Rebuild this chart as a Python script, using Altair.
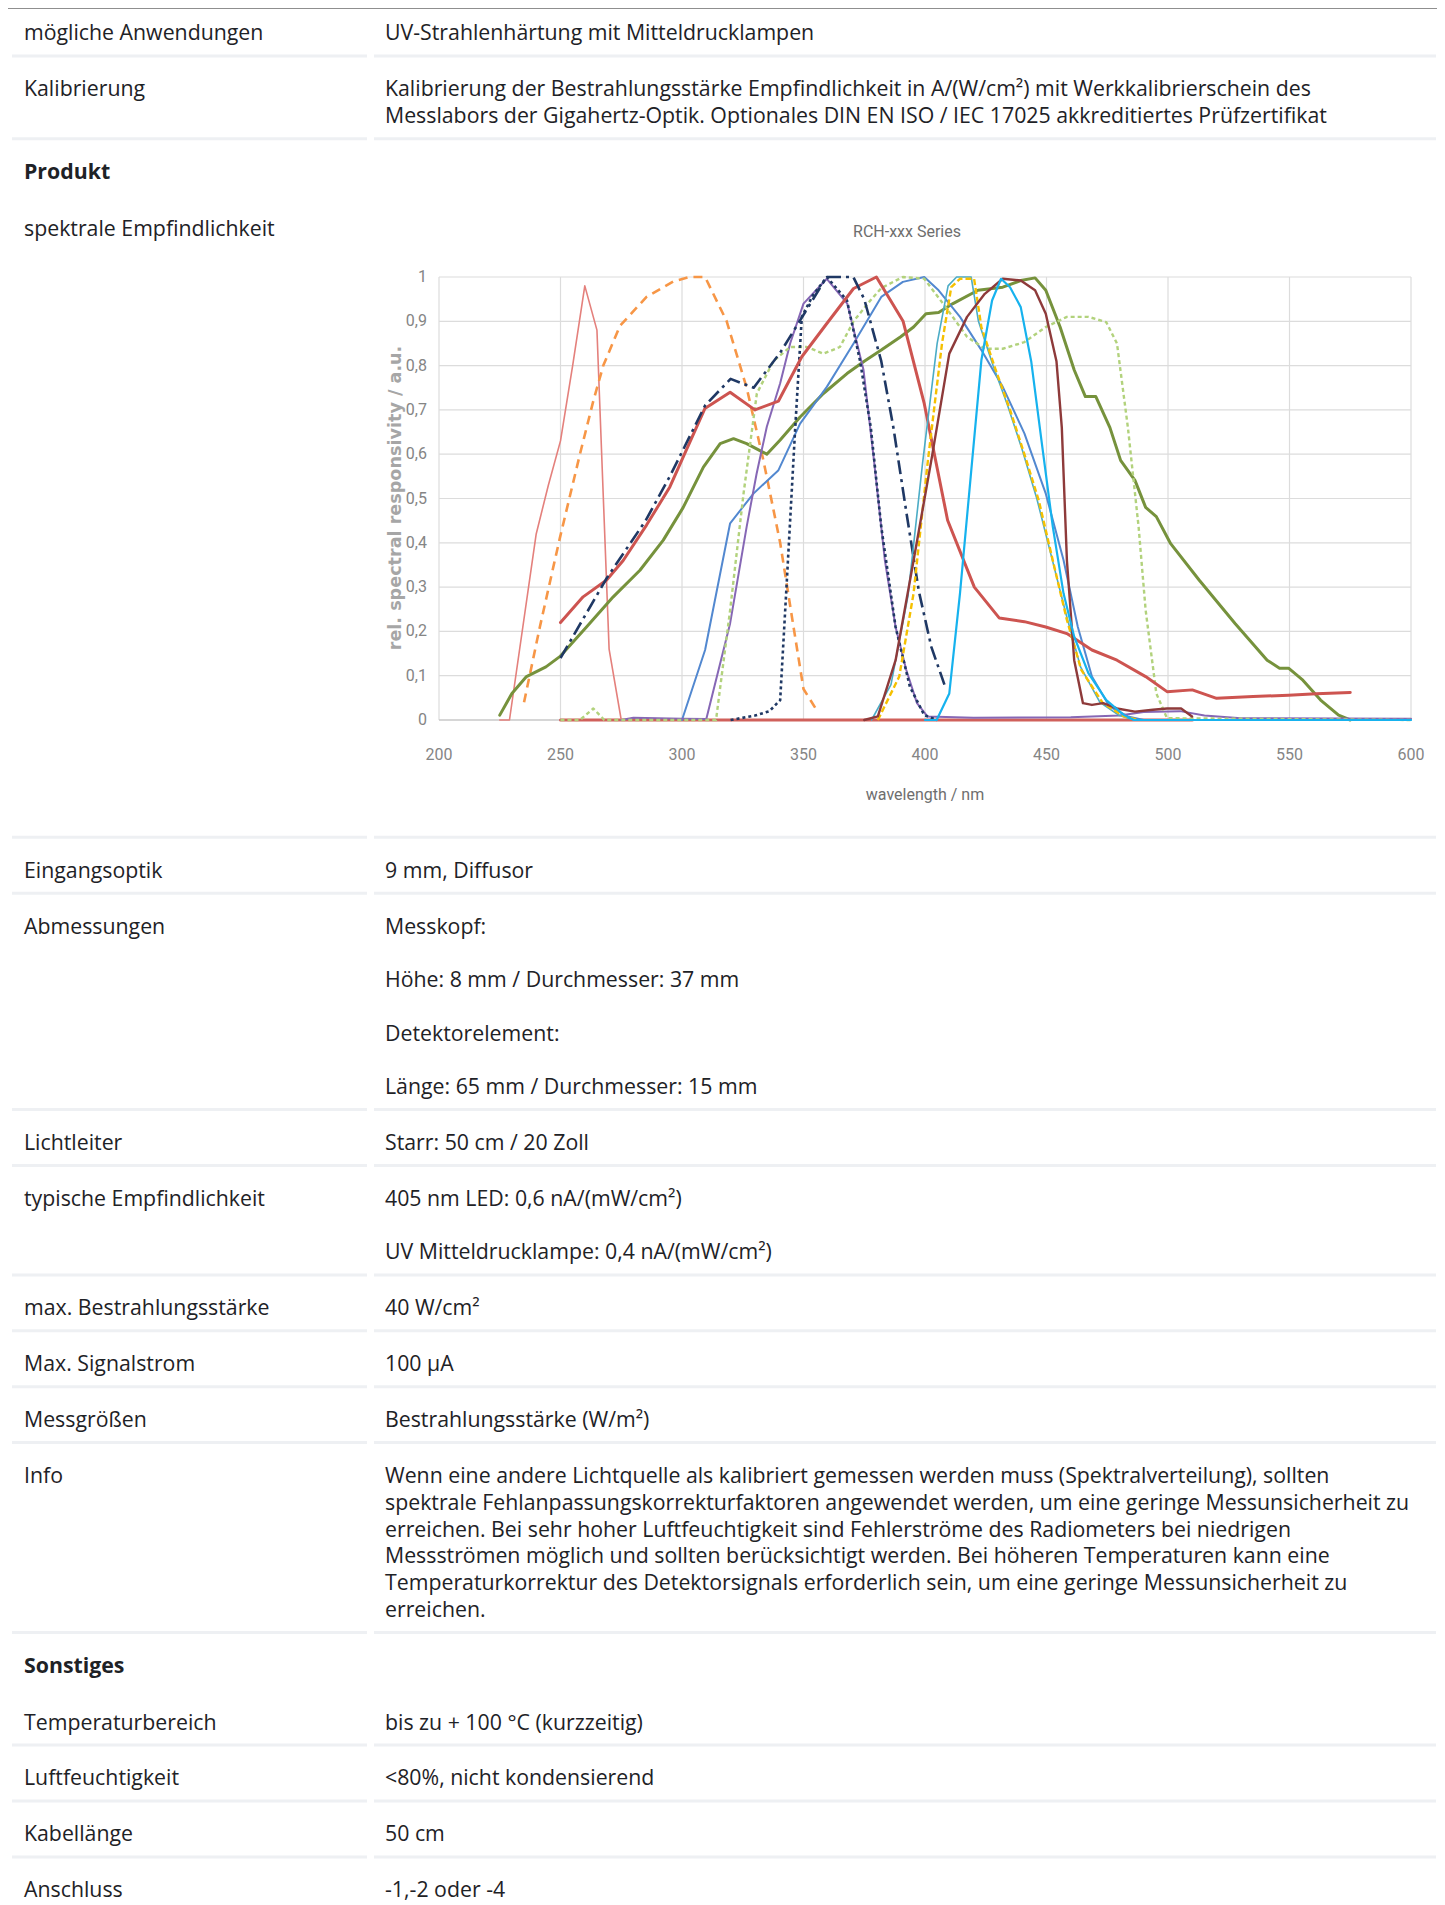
import altair as alt
import pandas as pd

MARGIN = 8
W, H = 1429, 1897

# ---------------- table content ----------------
ROW_LABELS = [
    "mögliche Anwendungen", "Kalibrierung", "Produkt", "spektrale Empfindlichkeit",
    "Eingangsoptik", "Abmessungen", "Lichtleiter", "typische Empfindlichkeit",
    "max. Bestrahlungsstärke", "Max. Signalstrom", "Messgrößen", "Info",
    "Sonstiges", "Temperaturbereich", "Luftfeuchtigkeit", "Kabellänge", "Anschluss",
]
ROW_KIND = ["row", "row", "header", "chart", "row", "row", "row", "row",
            "row", "row", "row", "row", "header", "row", "row", "row", "row"]
ROW_VALUES = [
    [["UV-Strahlenhärtung mit Mitteldrucklampen"]],
    [["Kalibrierung der Bestrahlungsstärke Empfindlichkeit in A/(W/cm²) mit Werkkalibrierschein des",
      "Messlabors der Gigahertz-Optik. Optionales DIN EN ISO / IEC 17025 akkreditiertes Prüfzertifikat"]],
    [],
    [],
    [["9 mm, Diffusor"]],
    [["Messkopf:"], ["Höhe: 8 mm / Durchmesser: 37 mm"], ["Detektorelement:"],
     ["Länge: 65 mm / Durchmesser: 15 mm"]],
    [["Starr: 50 cm / 20 Zoll"]],
    [["405 nm LED: 0,6 nA/(mW/cm²)"], ["UV Mitteldrucklampe: 0,4 nA/(mW/cm²)"]],
    [["40 W/cm²"]],
    [["100 µA"]],
    [["Bestrahlungsstärke (W/m²)"]],
    [["Wenn eine andere Lichtquelle als kalibriert gemessen werden muss (Spektralverteilung), sollten",
      "spektrale Fehlanpassungskorrekturfaktoren angewendet werden, um eine geringe Messunsicherheit zu",
      "erreichen. Bei sehr hoher Luftfeuchtigkeit sind Fehlerströme des Radiometers bei niedrigen",
      "Messströmen möglich und sollten berücksichtigt werden. Bei höheren Temperaturen kann eine",
      "Temperaturkorrektur des Detektorsignals erforderlich sein, um eine geringe Messunsicherheit zu",
      "erreichen."]],
    [],
    [["bis zu + 100 °C (kurzzeitig)"]],
    [["<80%, nicht kondensierend"]],
    [["50 cm"]],
    [["-1,-2 oder -4"]],
]

# ---------------- spectral responsivity curves ----------------
X_TICKS = [200, 250, 300, 350, 400, 450, 500, 550, 600]
Y_TICKS = [0, 0.1, 0.2, 0.3, 0.4, 0.5, 0.6, 0.7, 0.8, 0.9, 1.0]
Y_TICK_LABELS = ["0", "0,1", "0,2", "0,3", "0,4", "0,5", "0,6", "0,7", "0,8", "0,9", "1"]

PINK_WL = [225, 229, 240, 245, 250, 255, 260, 265, 270, 275]
PINK_V = [0, 0, 0.42, 0.53, 0.63, 0.80, 0.98, 0.88, 0.16, 0]

RED0_WL = [250, 300, 400, 510]
RED0_V = [0, 0, 0, 0]

ORANGE_WL = [235, 241.5, 249.7, 258, 263.5, 267.6, 274.5, 285.4, 296.4, 303, 309.5,
             318.4, 326.6, 333.5, 340.4, 345.9, 350, 355]
ORANGE_V = [0.04, 0.21, 0.41, 0.60, 0.72, 0.80, 0.89, 0.955, 0.99, 1.0, 1.0,
            0.90, 0.75, 0.586, 0.40, 0.21, 0.07, 0.026]

OLIVE_WL = [225, 230, 236, 244, 249.7, 260.7, 271.7, 282.7, 292.3, 300.5, 308.8, 315.7,
            321.2, 326.6, 334.9, 340.4, 348.6, 358.2, 367.9, 375, 382, 390, 395.3, 400.4,
            405.6, 411.5, 421.8, 432, 439.4, 445.3, 449.7, 455.6, 461.4, 466, 470.3, 476.1,
            480.5, 486.4, 490.8, 495.2, 501.1, 512.8, 527.6, 540.8, 545.9, 549.6, 555.5,
            562.8, 570.2, 575]
OLIVE_V = [0.011, 0.06, 0.098, 0.12, 0.143, 0.21, 0.278, 0.338, 0.406, 0.48, 0.571, 0.624,
           0.635, 0.624, 0.60, 0.632, 0.684, 0.737, 0.782, 0.81, 0.835, 0.865, 0.887, 0.917,
           0.92, 0.94, 0.97, 0.977, 0.992, 0.998, 0.97, 0.887, 0.79, 0.73, 0.73, 0.66,
           0.586, 0.541, 0.48, 0.459, 0.398, 0.316, 0.218, 0.135, 0.117, 0.117, 0.09,
           0.045, 0.011, 0]

LGREEN_WL = [250, 258, 263.5, 268, 314, 319.8, 325.3, 330.8, 337.6, 344.5, 351.4, 358.2,
             365, 370.6, 377.5, 382, 390.9, 399.7, 408.5, 417.3, 424.6, 432, 440.9, 449.7,
             458.4, 467.3, 474.6, 479, 483.5, 487.9, 490.8, 495.2, 499.6, 600]
LGREEN_V = [0, 0, 0.026, 0, 0, 0.248, 0.51, 0.737, 0.81, 0.842, 0.842, 0.827,
            0.842, 0.90, 0.947, 0.975, 1.0, 0.996, 0.932, 0.865, 0.838, 0.838, 0.853, 0.887,
            0.91, 0.91, 0.898, 0.85, 0.66, 0.436, 0.248, 0.06, 0.004, 0]

NAVYDD_WL = [250, 269, 285, 295, 309.5, 320, 329.5, 340.5, 349.5, 359.5, 370.5, 375,
             382, 387, 392.3, 397.5, 402.6, 408]
NAVYDD_V = [0.14, 0.32, 0.45, 0.55, 0.71, 0.77, 0.75, 0.83, 0.91, 1.0, 1.0, 0.95,
            0.81, 0.66, 0.47, 0.29, 0.165, 0.08]

RED_WL = [250, 259.3, 269, 275.8, 285.4, 295, 309.4, 319.8, 330, 339.7, 349.3, 359.6,
          370.6, 380, 391, 399.7, 409.3, 420.3, 430.6, 440.9, 449.7, 458.4, 468.7, 479,
          490.8, 499.6, 510, 520, 535, 549.6, 561, 575]
RED_V = [0.22, 0.278, 0.316, 0.36, 0.44, 0.526, 0.703, 0.74, 0.70, 0.72, 0.82, 0.895,
         0.974, 1.0, 0.90, 0.714, 0.451, 0.30, 0.23, 0.222, 0.21, 0.195, 0.158, 0.135,
         0.098, 0.064, 0.068, 0.049, 0.053, 0.056, 0.059, 0.062]

BLUE_WL = [300, 309.5, 319.8, 329.4, 339.7, 348.6, 359.6, 370.6, 382, 390.9, 399.7, 405.6,
           414.4, 423.2, 432, 440.9, 449.7, 457, 462.9, 468.7, 476, 483.5, 490]
BLUE_V = [0, 0.158, 0.444, 0.511, 0.564, 0.669, 0.752, 0.85, 0.955, 0.989, 1.0, 0.97,
          0.91, 0.835, 0.752, 0.647, 0.511, 0.361, 0.21, 0.098, 0.03, 0.008, 0]

PURPLE_WL = [275, 280, 290, 300, 310, 319.8, 326.6, 330.7, 334.9, 340.4, 344.5, 350,
             359.6, 368, 374.7, 379, 383.5, 387.9, 392.3, 396.7, 401, 420, 460, 480,
             490, 505, 515, 530, 600]
PURPLE_V = [0, 0.005, 0.004, 0.003, 0.002, 0.218, 0.436, 0.556, 0.662, 0.76, 0.85, 0.94,
            0.996, 0.94, 0.79, 0.586, 0.36, 0.21, 0.113, 0.038, 0.008, 0.005, 0.006, 0.01,
            0.018, 0.02, 0.01, 0.004, 0.003]

NAVYD_WL = [320, 330, 336, 340.4, 343, 346.6, 349.3, 354, 359.6, 367.9, 373.3, 377.7,
            382, 387.9, 393.8, 399.7, 405]
NAVYD_V = [0, 0.01, 0.02, 0.045, 0.3, 0.66, 0.91, 0.96, 1.0, 0.947, 0.81, 0.66,
           0.436, 0.21, 0.075, 0.011, 0]

TEAL_WL = [378, 386, 393, 399, 405, 409.5, 413, 419, 422, 428, 434, 440, 446, 452,
           458, 464, 472, 480, 486, 600]
TEAL_V = [0, 0.08, 0.28, 0.58, 0.85, 0.98, 1.0, 1.0, 0.9, 0.8, 0.71, 0.61, 0.5, 0.37,
          0.24, 0.12, 0.04, 0.01, 0, 0]

YELLOW_WL = [380.6, 389.4, 395.3, 401.2, 407, 410.8, 414.4, 420.2, 423.2, 429.1, 435,
             440.9, 446.8, 452.6, 458.4, 464.3, 473.2, 481.9, 487.8]
YELLOW_V = [0, 0.098, 0.286, 0.586, 0.85, 0.977, 0.996, 0.996, 0.887, 0.79, 0.70,
            0.60, 0.496, 0.36, 0.226, 0.113, 0.038, 0.008, 0]

MAROON_WL = [375, 380.6, 387.9, 395.3, 402.6, 410, 417.3, 424.6, 432, 439.4, 445.3, 449.7,
             454.1, 456.3, 458.4, 461.4, 465, 468.7, 473.3, 479, 486.4, 493.8, 499.6,
             505.4, 509.9]
MAROON_V = [0, 0.008, 0.135, 0.36, 0.586, 0.827, 0.91, 0.962, 0.996, 0.992, 0.97, 0.917,
            0.81, 0.66, 0.36, 0.135, 0.038, 0.034, 0.038, 0.026, 0.019, 0.023, 0.026,
            0.026, 0.008]

CYAN_WL = [400, 404.8, 410, 414.4, 418.8, 423.2, 427.6, 431.3, 435, 439.4, 443.7, 448.1,
           452.6, 457, 461.4, 467.3, 474.6, 481.9, 486, 600]
CYAN_V = [0, 0, 0.06, 0.286, 0.549, 0.812, 0.947, 0.996, 0.977, 0.932, 0.81, 0.624,
          0.436, 0.286, 0.188, 0.105, 0.045, 0.011, 0, 0]

# (wavelengths, values, colour, width, dash)
SERIES = [
    (RED0_WL, RED0_V, "#D0605B", 3.0, None),
    (PINK_WL, PINK_V, "#E4807C", 1.6, None),
    (ORANGE_WL, ORANGE_V, "#F79646", 2.6, [9, 6]),
    (OLIVE_WL, OLIVE_V, "#76923C", 3.0, None),
    (BLUE_WL, BLUE_V, "#5288D0", 2.0, None),
    (PURPLE_WL, PURPLE_V, "#8667B5", 2.0, None),
    (LGREEN_WL, LGREEN_V, "#B2D27C", 2.4, [4, 3]),
    (NAVYD_WL, NAVYD_V, "#1F3864", 2.6, [3, 3]),
    (RED_WL, RED_V, "#CD5450", 3.0, None),
    (NAVYDD_WL, NAVYDD_V, "#1F3864", 2.6, [14, 5, 3, 5]),
    (TEAL_WL, TEAL_V, "#4BACC6", 1.6, None),
    (YELLOW_WL, YELLOW_V, "#F5C000", 2.4, [6, 3]),
    (MAROON_WL, MAROON_V, "#8E3A3A", 2.4, None),
    (CYAN_WL, CYAN_V, "#16B2EE", 2.2, None),
]

# ---------------- layout (page coordinates) ----------------
LABEL_X = 24
VALUE_X = 385
FIRST_TEXT_Y = 34.4
LINE_H = 26.8
PARA_H = 53.5
SEP_GAP = 21.6
NEXT_GAP = 34.3
HEADER_PITCH = 56.7
CHART_ROW_H = 607.6
LEFT_SEP = (12, 367)
RIGHT_SEP = (374, 1436)
FONT_SIZE = 21.3

label_rows, value_rows, header_rows, sep_rows = [], [], [], []
y = FIRST_TEXT_Y
for label, kind, paras in zip(ROW_LABELS, ROW_KIND, ROW_VALUES):
    if kind == "header":
        header_rows.append({"t": label, "x": LABEL_X - MARGIN, "y": y - MARGIN})
        y += HEADER_PITCH
        continue
    label_rows.append({"t": label, "x": LABEL_X - MARGIN, "y": y - MARGIN})
    if kind == "chart":
        last = y + CHART_ROW_H - SEP_GAP
    else:
        ly = y
        for pi, para in enumerate(paras):
            if pi > 0:
                ly += PARA_H
            for li, line in enumerate(para):
                if li > 0:
                    ly += LINE_H
                value_rows.append({"t": line, "x": VALUE_X - MARGIN, "y": ly - MARGIN})
        last = ly
    sep = last + SEP_GAP
    sep_rows.append({"x": LEFT_SEP[0] - MARGIN, "x2": LEFT_SEP[1] - MARGIN, "y": sep - MARGIN})
    sep_rows.append({"x": RIGHT_SEP[0] - MARGIN, "x2": RIGHT_SEP[1] - MARGIN, "y": sep - MARGIN})
    y = sep + NEXT_GAP

TEXT_FONT = "Open Sans"
TEXT_COLOR = "#1E2226"

def px(field):
    return alt.X(f"{field}:Q", scale=None, axis=None)

def py(field):
    return alt.Y(f"{field}:Q", scale=None, axis=None)

labels_layer = alt.Chart(pd.DataFrame(label_rows)).mark_text(
    align="left", baseline="middle", font=TEXT_FONT, fontSize=FONT_SIZE, color=TEXT_COLOR
).encode(x=px("x"), y=py("y"), text="t:N")

values_layer = alt.Chart(pd.DataFrame(value_rows)).mark_text(
    align="left", baseline="middle", font=TEXT_FONT, fontSize=FONT_SIZE, color=TEXT_COLOR
).encode(x=px("x"), y=py("y"), text="t:N")

headers_layer = alt.Chart(pd.DataFrame(header_rows)).mark_text(
    align="left", baseline="middle", font=TEXT_FONT, fontSize=FONT_SIZE, fontWeight="bold",
    color=TEXT_COLOR
).encode(x=px("x"), y=py("y"), text="t:N")

seps_layer = alt.Chart(pd.DataFrame(sep_rows)).mark_rule(
    color="#EEF0F3", strokeWidth=3
).encode(x=px("x"), x2="x2:Q", y=py("y"))

top_line = pd.DataFrame({"x": [0], "x2": [W], "y": [0.5]})
top_layer = alt.Chart(top_line).mark_rule(color="#8F8F8F", strokeWidth=1).encode(
    x=px("x"), x2="x2:Q", y=py("y"))

# ---------------- spectral chart ----------------
PLOT_X0, PLOT_X1 = 439, 1411
PLOT_Y0, PLOT_Y1 = 720, 277
XS = alt.Scale(domain=[200, 600], range=[PLOT_X0 - MARGIN, PLOT_X1 - MARGIN], nice=False, zero=False)
YS = alt.Scale(domain=[0, 1], range=[PLOT_Y0 - MARGIN, PLOT_Y1 - MARGIN], nice=False, zero=False)
AX_FONT = "Roboto"
AX_COLOR = "#858585"

vgrid = alt.Chart(pd.DataFrame({"wl": X_TICKS, "lo": [0] * len(X_TICKS), "hi": [1] * len(X_TICKS)})).mark_rule(
    color="#DCDCDC", strokeWidth=1.2
).encode(x=alt.X("wl:Q", scale=XS, axis=None), y=alt.Y("lo:Q", scale=YS, axis=None), y2="hi:Q")

hgrid = alt.Chart(pd.DataFrame({"v": Y_TICKS[1:], "a": [200] * 10, "b": [600] * 10})).mark_rule(
    color="#DCDCDC", strokeWidth=1.2
).encode(y=alt.Y("v:Q", scale=YS, axis=None), x=alt.X("a:Q", scale=XS, axis=None), x2="b:Q")

baseline = alt.Chart(pd.DataFrame({"v": [0], "a": [200], "b": [600]})).mark_rule(
    color="#C8C8C8", strokeWidth=1.5
).encode(y=alt.Y("v:Q", scale=YS, axis=None), x=alt.X("a:Q", scale=XS, axis=None), x2="b:Q")

ytick_labels = alt.Chart(pd.DataFrame({"v": Y_TICKS, "t": Y_TICK_LABELS})).mark_text(
    align="right", baseline="middle", font=AX_FONT, fontSize=16, color=AX_COLOR
).encode(y=alt.Y("v:Q", scale=YS, axis=None), x=alt.value(427 - MARGIN), text="t:N")

xtick_labels = alt.Chart(pd.DataFrame({"wl": X_TICKS, "t": [str(t) for t in X_TICKS]})).mark_text(
    align="center", baseline="middle", font=AX_FONT, fontSize=16, color=AX_COLOR
).encode(x=alt.X("wl:Q", scale=XS, axis=None), y=alt.value(755 - MARGIN), text="t:N")

annot = pd.DataFrame({
    "t": ["RCH-xxx Series", "wavelength / nm"],
    "x": [907 - MARGIN, 925 - MARGIN],
    "y": [232 - MARGIN, 795 - MARGIN],
})
annot_layer = alt.Chart(annot).mark_text(
    align="center", baseline="middle", font=AX_FONT, fontSize=16, color="#6E6E6E"
).encode(x=px("x"), y=py("y"), text="t:N")

ytitle = alt.Chart(pd.DataFrame({"t": ["rel. spectral responsivity / a.u."],
                                 "x": [396 - MARGIN], "y": [498 - MARGIN]})).mark_text(
    align="center", baseline="middle", angle=270, font="DejaVu Sans", fontSize=17.6,
    fontWeight="bold", color="#A6A6A6"
).encode(x=px("x"), y=py("y"), text="t:N")

line_layers = []
for wl, vals, color, width, dash in SERIES:
    df = pd.DataFrame({"wl": wl, "v": vals})
    kw = dict(color=color, strokeWidth=width, strokeJoin="round")
    if dash is not None:
        kw["strokeDash"] = dash
    else:
        kw["strokeCap"] = "round"
    line_layers.append(
        alt.Chart(df).mark_line(**kw).encode(
            x=alt.X("wl:Q", scale=XS, axis=None),
            y=alt.Y("v:Q", scale=YS, axis=None),
        )
    )

spectral = alt.layer(vgrid, hgrid, baseline, ytick_labels, xtick_labels, *line_layers)

chart = alt.layer(
    seps_layer, top_layer, labels_layer, values_layer, headers_layer,
    annot_layer, ytitle, spectral
).resolve_scale(x="independent", y="independent").properties(
    width=W, height=H, padding=0, autosize="none", background="white"
).configure_view(stroke=None)

chart.save("out.html", embed_options={"renderer": "svg", "actions": False})
